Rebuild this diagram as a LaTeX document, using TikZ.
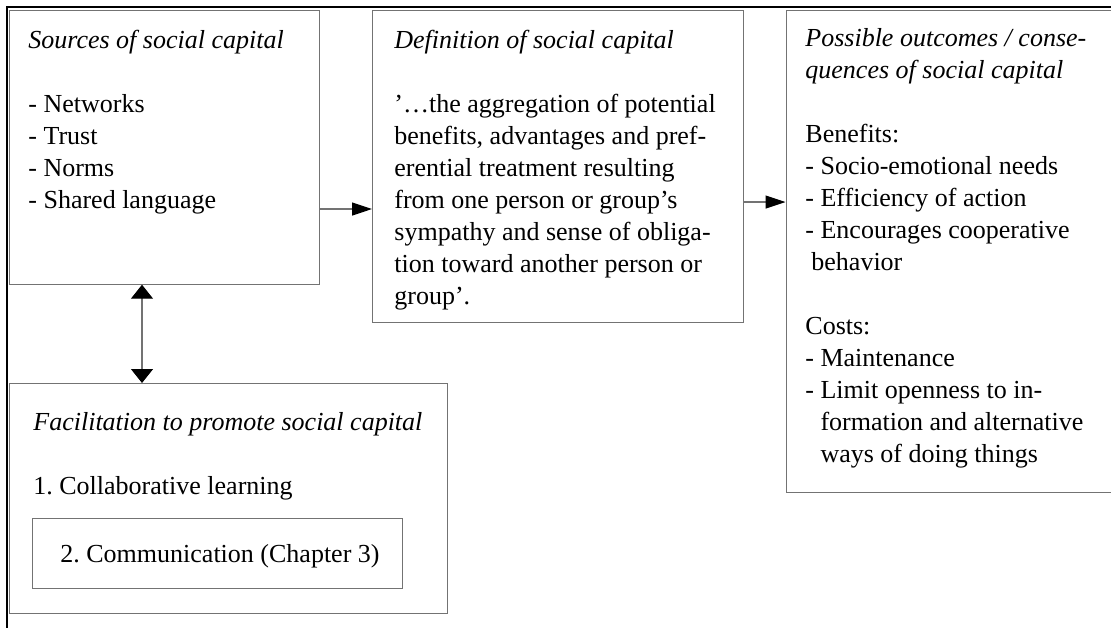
\documentclass[tikz,border=0pt]{standalone}
\usepackage{fontspec}
\setmainfont{Liberation Serif}
\usetikzlibrary{positioning,arrows.meta}

\begin{document}
\frenchspacing
\begin{tikzpicture}[
  x=0.5pt, y=-0.5pt,
  font=\fontsize{13}{16}\selectfont,
  panel/.style={rectangle, draw=black!55, line width=0.6pt, inner sep=0pt, anchor=north west},
  txt/.style={anchor=north west, align=left, inner sep=0pt},
  arr/.style={-{Triangle[length=10pt,width=6.5pt,color=black]}, draw=black!55, line width=0.6pt},
  biarr/.style={{Triangle[length=7pt,width=11pt,color=black]}-{Triangle[length=7pt,width=11pt,color=black]},
                draw=black!55, line width=0.6pt},
  frame/.style={draw=black, line width=1pt}
]
\useasboundingbox (0,0) rectangle (1111,628);
\draw[frame] (1111,7) -- (6.5,7) -- (6.5,628);

% boxes
\node[panel, minimum width=155pt, minimum height=136.75pt] (src) at (8.5,10) {};
\node[panel, minimum width=185.5pt, minimum height=156pt] (defn) at (372,10) {};
\node[panel, minimum width=166pt, minimum height=241pt] (outc) at (785.5,10) {};
\node[panel, minimum width=219.25pt, minimum height=115pt] (facil) at (8.5,383) {};
\node[panel, minimum width=185pt, minimum height=35pt] (comm) at (32,518) {};

% texts
\node[txt] (srcT) at (28,30) {\textit{Sources of social capital}\\[16pt]
  - Networks\\- Trust\\- Norms\\- Shared language};
\node[txt] (defnT) at (394,30) {\textit{Definition of social capital}\\[16pt]
  '…the aggregation of potential\\benefits, advantages and pref-\\erential treatment resulting\\
  from one person or group's\\sympathy and sense of obliga-\\tion toward another person or\\group'.};
\node[txt] (outcT) at (805,28) {\textit{Possible outcomes / conse-}\\\textit{quences of social capital}\\[16pt]
  Benefits:\\- Socio-emotional needs\\- Efficiency of action\\- Encourages cooperative\\
  \hspace{3pt}behavior\\[16pt]
  Costs:\\- Maintenance\\- Limit openness to in-\\\phantom{- }formation and alternative\\
  \phantom{- }ways of doing things};
\node[txt] (facilT) at (33,412) {\textit{Facilitation to promote social capital}\\[16pt]
  1. Collaborative learning};
\node[txt] (commT) at (60,544) {2. Communication (Chapter 3)};

% connectors
\draw[arr] (src.east |- 0,209) -- (defn.west |- 0,209);
\draw[arr] (defn.east |- 0,202) -- (outc.west |- 0,202);
\draw[biarr] (src.south -| 142,0) -- (facil.north -| 142,0);
\end{tikzpicture}
\end{document}
